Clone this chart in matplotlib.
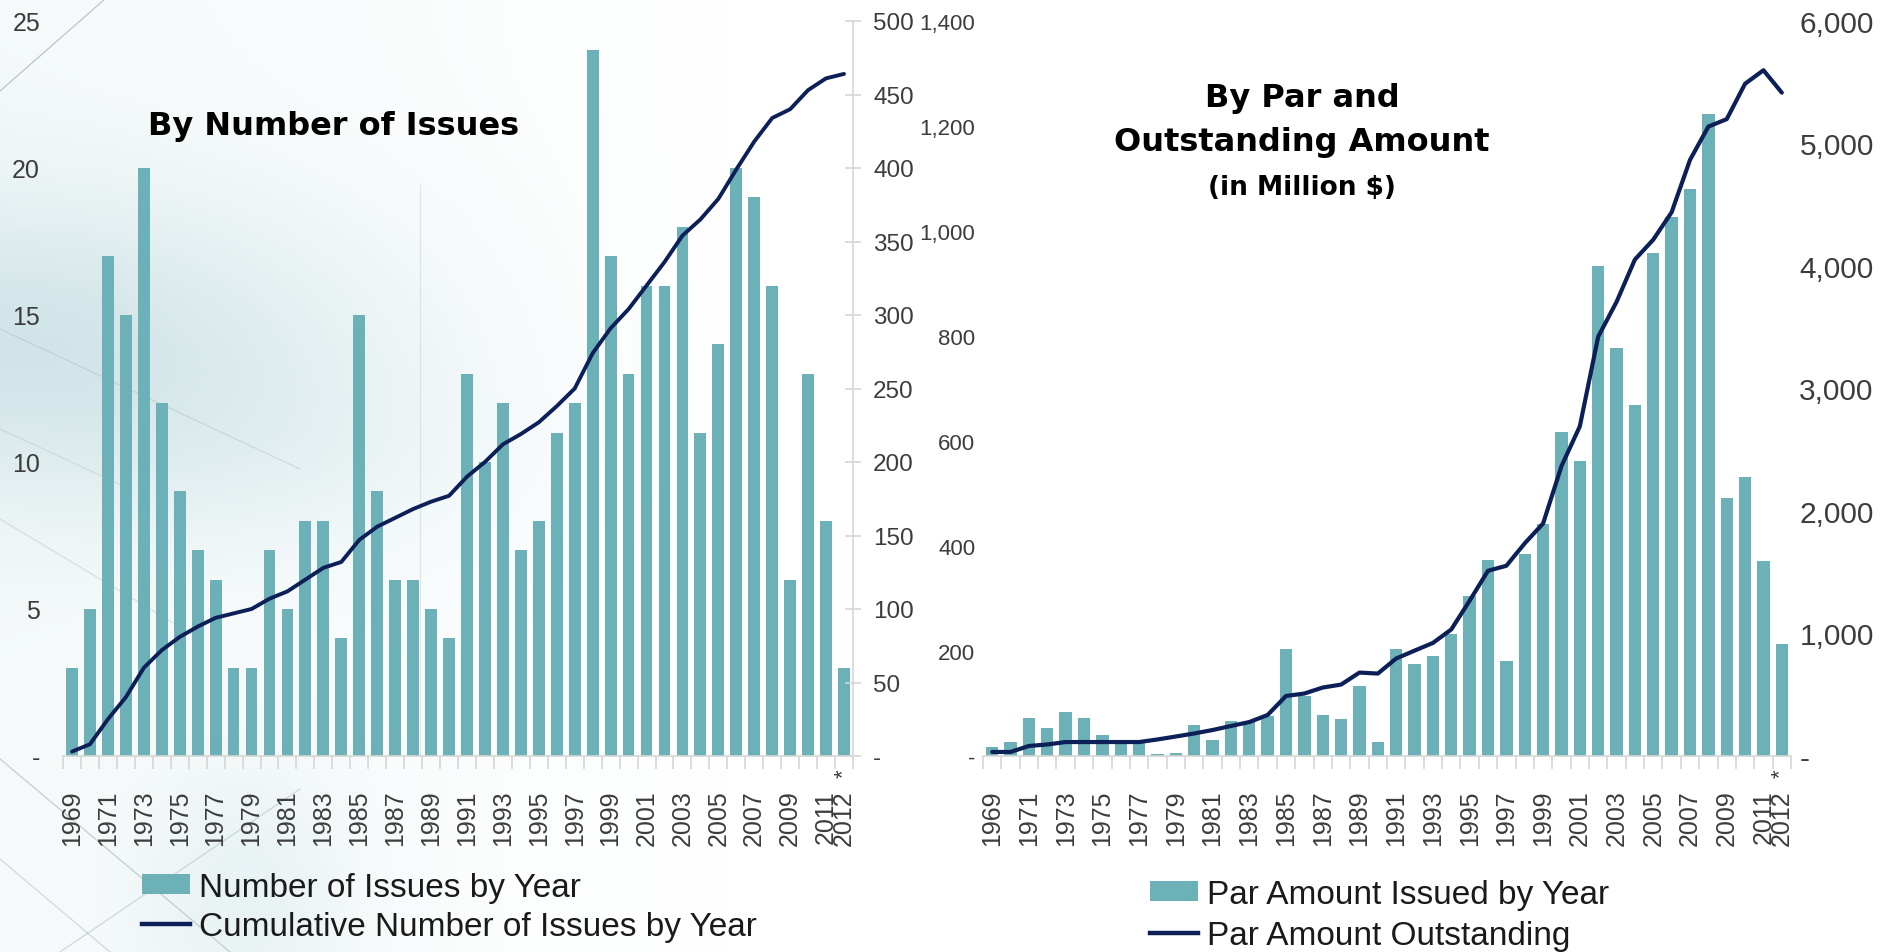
import numpy as np
import matplotlib
matplotlib.use("Agg")
import matplotlib.pyplot as plt
from matplotlib import font_manager
from matplotlib.patches import Patch
from matplotlib.lines import Line2D
from matplotlib.ticker import FixedLocator, FuncFormatter
import matplotlib.transforms as mtransforms

# ---------------------------------------------------------------- data
years = list(range(1969, 2013))
tick_years = [str(y) for y in range(1969, 2012, 2)] + ["2012"]

issues_by_year = [3, 5, 17, 15, 20, 12, 9, 7, 6, 3,
                  3, 7, 5, 8, 8, 4, 15, 9, 6, 6,
                  5, 4, 13, 10, 12, 7, 8, 11, 12, 24,
                  17, 13, 16, 16, 18, 11, 14, 20, 19, 16,
                  6, 13, 8, 3]
cumulative_issues = [3, 8, 25, 40, 60, 72, 81, 88, 94, 97,
                     100, 107, 112, 120, 128, 132, 147, 156, 162, 168,
                     173, 177, 190, 200, 212, 219, 227, 238, 250, 274,
                     291, 304, 320, 336, 354, 365, 379, 399, 418, 434,
                     440, 453, 461, 464]
par_issued = [17, 26, 73, 54, 84, 73, 40, 29, 29, 3,
              5, 59, 30, 67, 67, 76, 203, 114, 79, 71,
              133, 26, 204, 176, 190, 233, 304, 373, 181, 384,
              442, 618, 561, 934, 778, 668, 959, 1027, 1080, 1222,
              492, 531, 371, 213]
par_outstanding = [33, 33, 82, 94, 114, 114, 114, 114, 114, 135,
                   159, 184, 212, 245, 277, 335, 490, 510, 559, 583,
                   681, 673, 796, 860, 923, 1033, 1268, 1512, 1553, 1736,
                   1898, 2366, 2691, 3423, 3707, 4053, 4215, 4439, 4866, 5138,
                   5199, 5488, 5598, 5415]

left_title = "By Number of Issues"
right_title = ["By Par and", "Outstanding Amount"]
right_subtitle = "(in Million $)"
left_legend = ["Number of Issues by Year", "Cumulative Number of Issues by Year"]
right_legend = ["Par Amount Issued by Year", "Par Amount Outstanding"]

# ---------------------------------------------------------------- style
BAR = "#6cb0b8"
LINE = "#0c1f57"
TICK_TXT = "#3c3c3c"
GRID = "#d6d6d6"


def pick_font(*names):
    avail = {f.name for f in font_manager.fontManager.ttflist}
    for n in names:
        if n in avail:
            return n
    return "DejaVu Sans"


SANS = pick_font("Liberation Sans", "Arimo", "DejaVu Sans")
BOLD = "DejaVu Sans"

plt.rcParams["font.family"] = SANS

W, H = 1883, 953
fig = plt.figure(figsize=(W / 100, H / 100), dpi=100)
fig.patch.set_facecolor("white")

# ---------------------------------------------------------------- backdrop sketch on the left half
bg = fig.add_axes([0, 0, 1, 1], zorder=-10)
bg.set_xlim(0, W)
bg.set_ylim(H, 0)
bg.axis("off")
yy, xx = np.mgrid[0:H:3, 0:W:3].astype(float)
fade = np.clip((760 - xx) / 760, 0, 1)
haze = 0.09 * fade
blob = 0.36 * np.exp(-(((xx - 120) / 380) ** 2 + ((yy - 340) / 150) ** 2))
blob += 0.16 * np.exp(-(((xx - 340) / 260) ** 2 + ((yy - 460) / 110) ** 2))
blob += 0.22 * np.exp(-(((xx - 260) / 110) ** 2 + ((yy - 900) / 140) ** 2))
alpha = np.clip(haze + blob * fade, 0, 1)
rgba = np.zeros(xx.shape + (4,))
rgba[..., 0] = 0.58
rgba[..., 1] = 0.76
rgba[..., 2] = 0.79
rgba[..., 3] = alpha
bg.imshow(rgba, extent=(0, W, H, 0), aspect="auto", interpolation="bilinear")
sketch_lines = [
    ((0, 92), (105, 0), 0.55), ((0, 760), (230, 953), 0.45),
    ((60, 953), (300, 790), 0.35), ((0, 330), (300, 470), 0.25),
    ((0, 520), (200, 640), 0.25), ((0, 860), (110, 953), 0.35),
    ((420, 186), (420, 756), 0.2), ((0, 430), (130, 490), 0.2),
]
for (x0, y0), (x1, y1), a in sketch_lines:
    bg.plot([x0, x1], [y0, y1], color="#8f999e", lw=0.9, alpha=a)

x = np.arange(len(years))
tick_pos = list(range(0, 43, 2)) + [43]


def style_panel(ax, axr):
    ax.patch.set_alpha(0)
    for s in ["top", "left", "right"]:
        ax.spines[s].set_visible(False)
    ax.spines["bottom"].set_color(GRID)
    ax.spines["bottom"].set_linewidth(1.2)
    for s in ["top", "left", "bottom"]:
        axr.spines[s].set_visible(False)
    ax.set_xlim(-0.5, len(years) - 0.5)
    ax.xaxis.set_major_locator(FixedLocator(tick_pos))
    ax.set_xticklabels(tick_years, rotation=90, fontsize=18, color=TICK_TXT,
                       family=SANS, va="top", ha="center")
    ax.xaxis.set_minor_locator(FixedLocator(np.arange(-0.5, len(years), 1)))
    ax.tick_params(axis="x", which="major", length=0, pad=24)
    ax.tick_params(axis="x", which="minor", length=9, color=GRID, width=1.2)
    # asterisk marking the partial final year
    t = mtransforms.offset_copy(ax.get_xaxis_transform(), fig=fig, x=-1, y=-17, units="dots")
    ax.text(43, 0, "*", transform=t, rotation=90, fontsize=16, color=TICK_TXT,
            ha="center", va="center", family=SANS)


def dash_fmt(comma):
    def f(v, _):
        if v == 0:
            return "-"
        return f"{v:,.0f}" if comma else f"{v:.0f}"
    return FuncFormatter(f)


# ---------------------------------------------------------------- left panel
ax1 = fig.add_axes([63 / W, 1 - 757 / H, 790 / W, 735 / H])
ax1.bar(x, issues_by_year, width=0.66, color=BAR, zorder=2)
ax1.set_ylim(0, 25)
ax1r = ax1.twinx()
ax1r.plot(x, cumulative_issues, color=LINE, lw=2.8, solid_capstyle="round")
ax1r.set_ylim(0, 500)
style_panel(ax1, ax1r)
ax1.set_yticks(range(0, 26, 5))
ax1.yaxis.set_major_formatter(dash_fmt(False))
ax1.tick_params(axis="y", length=0, pad=16.5, labelsize=18, labelcolor=TICK_TXT)
ax1r.set_yticks(range(0, 501, 50))
ax1r.yaxis.set_major_formatter(dash_fmt(False))
ax1r.spines["right"].set_color(GRID)
ax1r.spines["right"].set_linewidth(1.2)
ax1r.tick_params(axis="y", direction="inout", length=12, color=GRID, width=1.2,
                 pad=8.5, labelsize=17.5, labelcolor=TICK_TXT)

fig.text(334 / W, 1 - 126 / H, left_title, ha="center", va="center",
         fontsize=23, fontweight="bold", family=BOLD, color="black")

# ---------------------------------------------------------------- right panel
ax2 = fig.add_axes([983 / W, 1 - 757 / H, 808 / W, 735 / H])
ax2.bar(x, par_issued, width=0.67, color=BAR, zorder=2)
ax2.set_ylim(0, 1400)
ax2r = ax2.twinx()
ax2r.plot(x, par_outstanding, color=LINE, lw=3.0, solid_capstyle="round")
ax2r.set_ylim(0, 6000)
style_panel(ax2, ax2r)
ax2r.spines["right"].set_visible(False)
ax2.set_yticks(range(0, 1401, 200))
ax2.yaxis.set_major_formatter(dash_fmt(True))
ax2.tick_params(axis="y", length=0, pad=5.5, labelsize=16, labelcolor=TICK_TXT)
ax2r.set_yticks(range(0, 6001, 1000))
ax2r.yaxis.set_major_formatter(dash_fmt(True))
ax2r.tick_params(axis="y", length=0, pad=6, labelsize=21.5, labelcolor=TICK_TXT)

fig.text(1302 / W, 1 - 98 / H, right_title[0], ha="center", va="center",
         fontsize=23, fontweight="bold", family=BOLD, color="black")
fig.text(1302 / W, 1 - 142 / H, right_title[1], ha="center", va="center",
         fontsize=23, fontweight="bold", family=BOLD, color="black")
fig.text(1302 / W, 1 - 188 / H, right_subtitle, ha="center", va="center",
         fontsize=19, fontweight="bold", family=BOLD, color="black")


# ---------------------------------------------------------------- legends
def add_legend(labels, x0, y_top, spacing):
    handles = [Patch(facecolor=BAR, edgecolor="none"),
               Line2D([0], [0], color=LINE, lw=3.2)]
    leg = fig.legend(handles, labels, loc="upper left",
                     bbox_to_anchor=(x0 / W, 1 - y_top / H),
                     frameon=False, fontsize=24, handlelength=1.45,
                     handleheight=0.55, handletextpad=0.25, labelspacing=spacing,
                     borderpad=0, borderaxespad=0)
    for t in leg.get_texts():
        t.set_color("#1a1a1a")
    return leg


add_legend(left_legend, 142, 873, 0.24)
add_legend(right_legend, 1150, 880, 0.31)

fig.savefig("out.png", dpi=100)
